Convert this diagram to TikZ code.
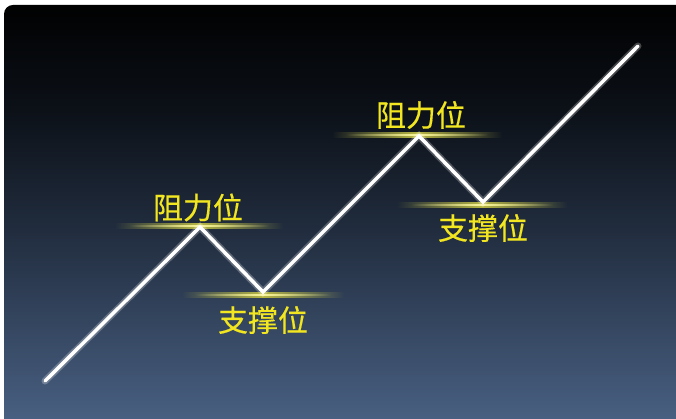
\documentclass[tikz,border=0pt]{standalone}
\usepackage{fontspec}
\newfontfamily\cjk[FakeBold=0.4]{Noto Sans CJK SC}
\usepackage{tikz}
\usetikzlibrary{fadings, positioning}
\definecolor{BG_Top}{HTML}{000000}
\definecolor{BG_Up}{HTML}{0C1118}
\definecolor{BG_Mid}{HTML}{1F2A3B}
\definecolor{BG_Low}{HTML}{4B6386}
\definecolor{Lvl_Yellow}{HTML}{F2E620}
\definecolor{Lvl_Glow}{HTML}{B8B845}

\tikzfading[name=barfade, left color=transparent!100, right color=transparent!100, middle color=transparent!0]

\begin{document}
\begin{tikzpicture}[x=1pt, y=-1pt,
    levelbar/.style={rectangle, inner sep=0pt, minimum height=6pt, fill=Lvl_Glow, path fading=barfade},
    levelcore/.style={rectangle, inner sep=0pt, minimum height=2pt, fill=Lvl_Yellow!45!white, path fading=barfade},
    leveltext/.style={text=Lvl_Yellow, font=\cjk\fontsize{30}{30}\selectfont, inner sep=0pt}]
    \useasboundingbox (0,0) rectangle (676,419);
    \fill[white] (0,0) rectangle (676,419);
    \begin{scope}
        \clip[rounded corners=9pt] (4,5) rectangle (688,431);
        \shade[top color=BG_Top, bottom color=BG_Up] (0,0) rectangle (690,110);
        \shade[top color=BG_Up, bottom color=BG_Mid] (0,110) rectangle (690,220);
        \shade[top color=BG_Mid, bottom color=BG_Low] (0,220) rectangle (690,432);
    \end{scope}

    % price path points
    \coordinate (p0) at (45,381);
    \coordinate (p1) at (200,227);
    \coordinate (p2) at (263,292);
    \coordinate (p3) at (419,136);
    \coordinate (p4) at (483,202);
    \coordinate (p5) at (638,46);

    % level lines
    \node (res1) [levelbar, minimum width=168pt] at (199,226) {};
    \node (res1c) [levelcore, minimum width=140pt] at (199,226) {};
    \node (sup1) [levelbar, minimum width=162pt] at (263,294.5) {};
    \node (sup1c) [levelcore, minimum width=136pt] at (263,294.5) {};
    \node (res2) [levelbar, minimum width=170pt] at (417,135.5) {};
    \node (res2c) [levelcore, minimum width=142pt] at (417,135.5) {};
    \node (sup2) [levelbar, minimum width=170pt] at (482,205.5) {};
    \node (sup2c) [levelcore, minimum width=142pt] at (482,205.5) {};

    % price path
    \draw[white, opacity=0.25, line width=7pt, line cap=round, line join=miter]
        (p0) -- (p1) -- (p2) -- (p3) -- (p4) -- (p5);
    \draw[white, line width=3.5pt, line cap=round, line join=miter]
        (p0) -- (p1) -- (p2) -- (p3) -- (p4) -- (p5);

    % labels
    \node (lres1) [leveltext] at (198,207.5) {阻力位};
    \node (lsup1) [leveltext] at (263,320) {支撑位};
    \node (lres2) [leveltext] at (421,115) {阻力位};
    \node (lsup2) [leveltext] at (483,228) {支撑位};
\end{tikzpicture}
\end{document}
